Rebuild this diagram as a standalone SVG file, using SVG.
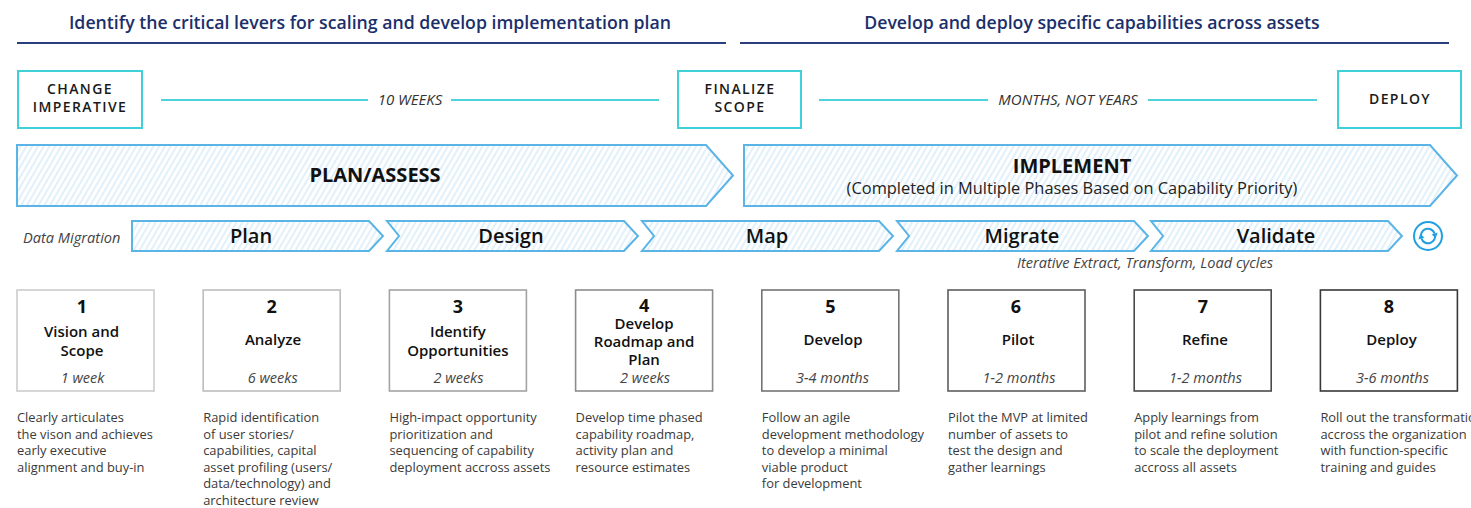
<svg xmlns="http://www.w3.org/2000/svg" width="1471" height="508" viewBox="0 0 1471 508">
<defs>
<pattern id="hatch" patternUnits="userSpaceOnUse" width="5" height="10" patternTransform="rotate(30)">
<rect width="5" height="10" fill="#ffffff"/>
<line x1="1" y1="0" x2="1" y2="10" stroke="#c9e4f6" stroke-width="1.1"/>
</pattern>
</defs>
<style>
.hdr{font-family:"Open Sans","Liberation Sans",sans-serif;font-size:17.7px;font-weight:600;fill:#1b2f6b;text-anchor:middle}
.hline{stroke:#2a3f7e;stroke-width:2}
.tbox{fill:#ffffff;stroke:#3fd0d8;stroke-width:2}
.tlabel{font-family:"Open Sans","Liberation Sans",sans-serif;font-size:14px;font-weight:600;fill:#1a1a1a;text-anchor:middle;letter-spacing:1.4px}
.cline{stroke:#4fd3db;stroke-width:2}
.dur{font-family:"Open Sans","Liberation Sans",sans-serif;font-size:15px;font-style:italic;fill:#333;text-anchor:middle}
.chev{fill:url(#hatch);stroke:#5ab4e5;stroke-width:2}
.big{font-family:"Open Sans","Liberation Sans",sans-serif;font-size:20px;font-weight:700;fill:#111;text-anchor:middle}
.sub{font-family:"Open Sans","Liberation Sans",sans-serif;font-size:16.4px;fill:#222;text-anchor:middle}
.step{font-family:"Open Sans","Liberation Sans",sans-serif;font-size:20px;font-weight:600;fill:#111;text-anchor:middle}
.note{font-family:"Open Sans","Liberation Sans",sans-serif;font-size:14.6px;font-style:italic;fill:#444}
.num{font-family:"Open Sans","Liberation Sans",sans-serif;font-size:18px;font-weight:700;fill:#111;text-anchor:middle}
.ttl{font-family:"Open Sans","Liberation Sans",sans-serif;font-size:15px;font-weight:600;fill:#111;text-anchor:middle}
.wk{font-family:"Open Sans","Liberation Sans",sans-serif;font-size:14.5px;font-style:italic;fill:#444;text-anchor:middle}
.desc{font-family:"Open Sans","Liberation Sans",sans-serif;font-size:12.9px;fill:#3a3a3a}
.box{fill:#ffffff;stroke-width:1.6}
</style>

<g id="headers">
<text class="hdr" x="370" y="29">Identify the critical levers for scaling and develop implementation plan</text>
<line class="hline" x1="17" y1="43" x2="726" y2="43"/>
<text class="hdr" x="1092" y="29">Develop and deploy specific capabilities across assets</text>
<line class="hline" x1="740" y1="43" x2="1449" y2="43"/>
</g>

<g id="connectors">
<line class="cline" x1="161" y1="100" x2="368" y2="100"/>
<line class="cline" x1="451" y1="100" x2="659" y2="100"/>
<line class="cline" x1="819" y1="100" x2="988" y2="100"/>
<line class="cline" x1="1148" y1="100" x2="1317" y2="100"/>
<text class="dur" x="410" y="105">10 WEEKS</text>
<text class="dur" x="1068" y="105">MONTHS, NOT YEARS</text>
</g>

<g id="change-imperative">
<rect class="tbox" x="18" y="71" width="124" height="57"/>
<text class="tlabel" x="80" y="94">CHANGE</text>
<text class="tlabel" x="80" y="112">IMPERATIVE</text>
</g>
<g id="finalize-scope">
<rect class="tbox" x="678" y="71" width="123" height="57"/>
<text class="tlabel" x="740" y="94">FINALIZE</text>
<text class="tlabel" x="740" y="112">SCOPE</text>
</g>
<g id="deploy-milestone">
<rect class="tbox" x="1338" y="71" width="123" height="57"/>
<text class="tlabel" x="1400" y="104">DEPLOY</text>
</g>

<g id="plan-assess">
<polygon class="chev" points="17,145 706,145 733,175.5 706,206 17,206"/>
<text class="big" x="375" y="182">PLAN/ASSESS</text>
</g>
<g id="implement">
<polygon class="chev" points="744,145 1430,145 1457,175.5 1430,206 744,206"/>
<text class="big" x="1072" y="173">IMPLEMENT</text>
<text class="sub" x="1072" y="194">(Completed in Multiple Phases Based on Capability Priority)</text>
</g>

<text class="note" x="23" y="243">Data Migration</text>
<g id="step-plan">
<polygon class="chev" points="132,221 369,221 383,236 369,251 132,251"/>
<text class="step" x="251" y="243">Plan</text>
</g>
<g id="step-design">
<polygon class="chev" points="387,221 624,221 638,236 624,251 387,251 399,236"/>
<text class="step" x="511" y="243">Design</text>
</g>
<g id="step-map">
<polygon class="chev" points="642,221 879,221 893,236 879,251 642,251 654,236"/>
<text class="step" x="767" y="243">Map</text>
</g>
<g id="step-migrate">
<polygon class="chev" points="897,221 1134,221 1148,236 1134,251 897,251 909,236"/>
<text class="step" x="1022" y="243">Migrate</text>
</g>
<g id="step-validate">
<polygon class="chev" points="1151,221 1388,221 1402,236 1388,251 1151,251 1163,236"/>
<text class="step" x="1276" y="243">Validate</text>
</g>
<g id="cycle-icon">
<circle cx="1428" cy="236" r="14" fill="#ffffff" stroke="#1fa0e0" stroke-width="2"/>
<path d="M1421.2 237.8 A7 7 0 0 1 1434.6 233.6" fill="none" stroke="#1fa0e0" stroke-width="2"/>
<polygon points="1437.6,232.4 1431.6,234.6 1435.8,238" fill="#1fa0e0"/>
<path d="M1434.8 234.2 A7 7 0 0 1 1421.4 238.4" fill="none" stroke="#1fa0e0" stroke-width="2"/>
<polygon points="1418.4,239.6 1424.4,237.4 1420.2,234" fill="#1fa0e0"/>
</g>
<text class="note" x="1017" y="268">Iterative Extract, Transform, Load cycles</text>

<g id="box1">
<rect class="box" x="17" y="290" width="137" height="101" stroke="#cccccc"/>
<text class="num" x="82" y="313">1</text>
<text class="ttl" x="81.5" y="337">Vision and</text>
<text class="ttl" x="82" y="356">Scope</text>
<text class="wk" x="82.5" y="383">1 week</text>
<text class="desc" x="17" y="422">Clearly articulates</text>
<text class="desc" x="17" y="438.5">the vison and achieves</text>
<text class="desc" x="17" y="455">early executive</text>
<text class="desc" x="17" y="471.5">alignment and buy-in</text>
</g>
<g id="box2">
<rect class="box" x="203.2" y="290" width="137" height="101" stroke="#bdbdbd"/>
<text class="num" x="271.7" y="313">2</text>
<text class="ttl" x="273" y="345">Analyze</text>
<text class="wk" x="272.7" y="383">6 weeks</text>
<text class="desc" x="203.2" y="422">Rapid identification</text>
<text class="desc" x="203.2" y="438.5">of user stories/</text>
<text class="desc" x="203.2" y="455">capabilities, capital</text>
<text class="desc" x="203.2" y="471.5">asset profiling (users/</text>
<text class="desc" x="203.2" y="488">data/technology) and</text>
<text class="desc" x="203.2" y="504.5">architecture review</text>
</g>
<g id="box3">
<rect class="box" x="389.4" y="290" width="137" height="101" stroke="#a3a3a3"/>
<text class="num" x="457.9" y="313">3</text>
<text class="ttl" x="457.9" y="337">Identify</text>
<text class="ttl" x="457.9" y="356">Opportunities</text>
<text class="wk" x="458.5" y="383">2 weeks</text>
<text class="desc" x="389.4" y="422">High-impact opportunity</text>
<text class="desc" x="389.4" y="438.5">prioritization and</text>
<text class="desc" x="389.4" y="455">sequencing of capability</text>
<text class="desc" x="389.4" y="471.5">deployment accross assets</text>
</g>
<g id="box4">
<rect class="box" x="575.6" y="290" width="137" height="101" stroke="#8c8c8c"/>
<text class="num" x="644.1" y="311.5">4</text>
<text class="ttl" x="644.1" y="329">Develop</text>
<text class="ttl" x="644.1" y="347">Roadmap and</text>
<text class="ttl" x="644.1" y="365">Plan</text>
<text class="wk" x="645" y="383">2 weeks</text>
<text class="desc" x="575.6" y="422">Develop time phased</text>
<text class="desc" x="575.6" y="438.5">capability roadmap,</text>
<text class="desc" x="575.6" y="455">activity plan and</text>
<text class="desc" x="575.6" y="471.5">resource estimates</text>
</g>
<g id="box5">
<rect class="box" x="761.8" y="290" width="137" height="101" stroke="#747474"/>
<text class="num" x="830.5" y="313">5</text>
<text class="ttl" x="833" y="345">Develop</text>
<text class="wk" x="832.5" y="383">3-4 months</text>
<text class="desc" x="761.8" y="422">Follow an agile</text>
<text class="desc" x="761.8" y="438.5">development methodology</text>
<text class="desc" x="761.8" y="455">to develop a minimal</text>
<text class="desc" x="761.8" y="471.5">viable product</text>
<text class="desc" x="761.8" y="488">for development</text>
</g>
<g id="box6">
<rect class="box" x="948" y="290" width="137" height="101" stroke="#5e5e5e"/>
<text class="num" x="1016" y="313">6</text>
<text class="ttl" x="1018" y="345">Pilot</text>
<text class="wk" x="1019" y="383">1-2 months</text>
<text class="desc" x="948" y="422">Pilot the MVP at limited</text>
<text class="desc" x="948" y="438.5">number of assets to</text>
<text class="desc" x="948" y="455">test the design and</text>
<text class="desc" x="948" y="471.5">gather learnings</text>
</g>
<g id="box7">
<rect class="box" x="1134.2" y="290" width="137" height="101" stroke="#4a4a4a"/>
<text class="num" x="1203" y="313">7</text>
<text class="ttl" x="1205" y="345">Refine</text>
<text class="wk" x="1205.5" y="383">1-2 months</text>
<text class="desc" x="1134.2" y="422">Apply learnings from</text>
<text class="desc" x="1134.2" y="438.5">pilot and refine solution</text>
<text class="desc" x="1134.2" y="455">to scale the deployment</text>
<text class="desc" x="1134.2" y="471.5">accross all assets</text>
</g>
<g id="box8">
<rect class="box" x="1320.4" y="290" width="137" height="101" stroke="#383838"/>
<text class="num" x="1389" y="313">8</text>
<text class="ttl" x="1391.5" y="345">Deploy</text>
<text class="wk" x="1392.5" y="383">3-6 months</text>
<text class="desc" x="1320.4" y="422">Roll out the transformation</text>
<text class="desc" x="1320.4" y="438.5">accross the organization</text>
<text class="desc" x="1320.4" y="455">with function-specific</text>
<text class="desc" x="1320.4" y="471.5">training and guides</text>
</g>
</svg>
